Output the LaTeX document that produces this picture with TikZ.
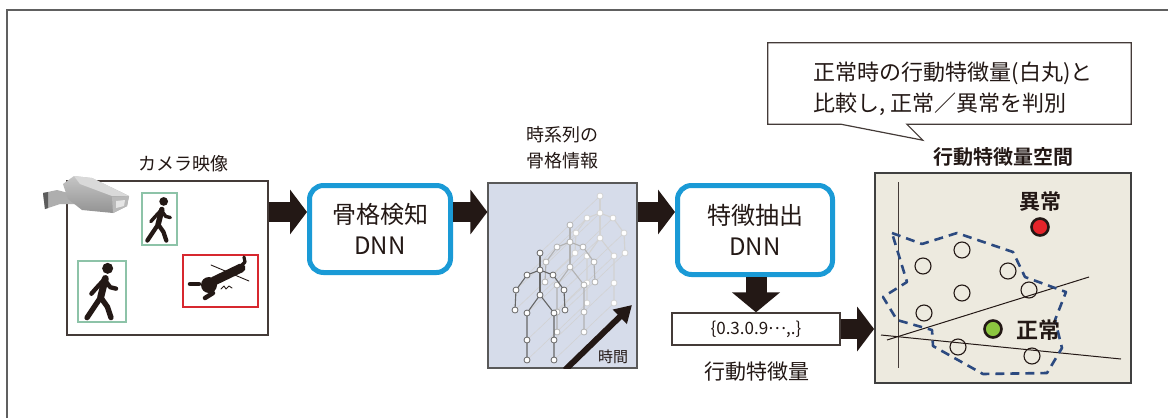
\documentclass[tikz,border=0pt]{standalone}
\usepackage{fontspec}
\setmainfont{Noto Sans CJK JP}[BoldFont={Noto Sans CJK JP Bold}]
\usetikzlibrary{arrows.meta,calc}
\definecolor{ink}{HTML}{231815}
\definecolor{dnnblue}{HTML}{1A9AD6}
\definecolor{panelblue}{HTML}{D6DCEA}
\definecolor{spacebg}{HTML}{EDEADF}
\definecolor{polyblue}{HTML}{2C4A80}
\definecolor{okgreen}{HTML}{8CC63F}
\definecolor{ngred}{HTML}{E5242A}
\definecolor{framegreen}{HTML}{8DC3A8}
\definecolor{framered}{HTML}{D7282F}
\definecolor{camgray}{HTML}{9A9A9A}

\tikzset{
  blockarrow/.style={draw=ink, line width=20pt, -{Triangle[length=17pt,width=44pt]}},
  dnnbox/.style={draw=dnnblue, line width=5pt, rounded corners=14pt, fill=white,
    align=center, text=ink, inner sep=0pt, font=\fontsize{24}{31}\selectfont},
  label/.style={text=ink, align=center, inner sep=0pt},
  wcirc/.style={circle, draw=ink, line width=1.1pt, fill=none, minimum size=16pt, inner sep=0pt},
  dot/.style={circle, draw=ink, line width=2.6pt, minimum size=17pt, inner sep=0pt},
  % walking pictogram, #1 = size factor
  walker/.pic={
    \begin{scope}[scale=#1, ink, line cap=round, line join=round]
      \fill (3.2,-17) circle (3.8);
      \draw[line width=#1*4.8pt] (1.6,-10) -- (-1.6,3);
      \draw[line width=#1*3pt] (0.6,-9) -- (-4.5,-3.5) -- (-8,0.5);
      \draw[line width=#1*3pt] (1.2,-9) -- (5,-4) -- (9,-3);
      \draw[line width=#1*3.7pt] (-1.6,3) -- (-6,9.5) -- (-11,17);
      \draw[line width=#1*3.7pt] (-1.6,3) -- (3,9.5) -- (5.5,17);
    \end{scope}
  },
  % joint skeleton, #1 = colour
  skel/.pic={
    \begin{scope}[draw=#1, line width=1.1pt, line join=round]
      \draw (0,-17) -- (0,0);
      \draw (0,0) -- (-13,5) -- (-24,20) -- (-25,40);
      \draw (0,0) -- (13,5) -- (24,20) -- (25,40);
      \draw (0,0) -- (0,25);
      \draw (0,25) -- (-13,43) -- (-13,70) -- (-13,90);
      \draw (0,25) -- (14,43) -- (14,70) -- (14,90);
      \foreach \jx/\jy in {0/-17,0/0,-13/5,-24/20,-25/40,13/5,24/20,25/40,0/25,-13/43,-13/70,-13/90,14/43,14/70,14/90}
        \filldraw[fill=white, line width=0.8pt] (\jx,\jy) circle (3);
    \end{scope}
  }
}

\begin{document}
\begin{tikzpicture}[x=1pt, y=-1pt]
\useasboundingbox (0,0) rectangle (1168,418);
\fill[white] (0,0) rectangle (1168,418);

% outer frame (top and left edges)
\draw[gray!75!black, line width=1.5pt] (7,418) -- (7,10) -- (1168,10);

% height of the horizontal flow arrows
\coordinate (flowy) at (0,212);

% ---------- camera view ----------
\node[label, font=\fontsize{18}{20}\selectfont] (camlabel) at (183,164) {カメラ映像};
\node[draw=ink!85, line width=1.4pt, minimum width=201pt, minimum height=154pt, inner sep=0pt] (cam) at (167.5,258) {};

\node[draw=framegreen, line width=1.4pt, minimum width=35pt, minimum height=52pt, inner sep=0pt] (walk1) at (159.5,219) {};
\node[draw=framegreen, line width=1.4pt, minimum width=48pt, minimum height=61pt, inner sep=0pt] (walk2) at (102,291.5) {};
\node[draw=framered, line width=1.4pt, minimum width=75pt, minimum height=52pt, inner sep=0pt] (fall) at (220.5,281) {};
\pic at (160,221) {walker=1.15};
\pic at (103,293) {walker=1.45};

% fallen person
\begin{scope}[ink, line cap=round, line join=round]
  \draw[line width=0.9pt] (211,265) -- (249,281);
  \draw[line width=9pt] (214,281) -- (241,268);
  \draw[line width=3.2pt] (240,267) -- (245,262) -- (244,257);
  \fill (209,285) circle (8);
  \draw[line width=4.5pt] (190,284) -- (199,284);
  \draw[line width=4.5pt] (205,298) -- (213,293);
  \draw[line width=0.9pt] (221,289) -- (224,286) -- (226,289) -- (229,286) -- (232,288);
\end{scope}

% surveillance camera
\begin{scope}[line join=round]
  \fill[camgray!80] (43,193) -- (57,190) -- (80,196) -- (80,204) -- (60,204) -- (45,209) -- cycle;
  \fill[camgray!60!black] (43,193) -- (48,192) -- (48,208) -- (45,209) -- cycle;
  \shade[top color=gray!45, bottom color=gray!85] (63,184) -- (74,176) -- (92,178) -- (129,196) -- (127,206) -- (113,213) -- (82,210) -- (68,199) -- cycle;
  \fill[gray!30] (74,176) -- (92,178) -- (129,196) -- (112,196) -- (80,184) -- cycle;
  \fill[gray!55] (112,197) -- (129,196) -- (127,206) -- (113,213) -- cycle;
  \fill[gray!20] (116,201) -- (125,200) -- (124,206) -- (116,208) -- cycle;
\end{scope}

% ---------- skeleton detection DNN ----------
\node[dnnbox, minimum width=141pt, minimum height=87pt] (det) at (380,229) {骨格検知\\DNN};

% ---------- time-series skeleton panel ----------
\node[label, font=\fontsize{18}{26}\selectfont] (skellabel) at (562,148) {時系列の\\骨格情報};
\node[draw=gray!70!black, line width=1.3pt, fill=panelblue, minimum width=149pt, minimum height=185pt, inner sep=0pt] (skel) at (562.5,275.5) {};
\begin{scope}
  \clip (skel.south west) rectangle (skel.north east);
  % joints linked over time
  \foreach \jx/\jy in {0/-17,0/0,-13/5,-24/20,-25/40,13/5,24/20,25/40,0/25,-13/43,-13/70,-13/90,14/43,14/70,14/90}
    \draw[gray!35, line width=0.6pt] (540+\jx,270+\jy) -- (600+\jx,213+\jy);
  \pic at (600,213) {skel=gray!35};
  \pic at (570,242) {skel=gray!60};
  \pic at (540,270) {skel=gray!80!black};
  \draw[ink, line width=6pt, -{Triangle[length=17pt,width=19pt]}] (565,370) -- (632,305);
\end{scope}
\node[label, font=\fontsize{15}{17}\selectfont] (timelabel) at (613,357) {時間};

% ---------- feature extraction DNN ----------
\node[dnnbox, minimum width=155pt, minimum height=89pt] (feat) at (755,230) {特徴抽出\\DNN};
\node[draw=ink!85, line width=1.3pt, fill=white, minimum width=168pt, minimum height=32pt, inner sep=0pt,
      text=ink, font=\fontsize{17}{20}\selectfont] (vec) at (756,329) {\{0.3.0.9\raisebox{0.28em}{…},.\}};
\node[label, font=\fontsize{21}{24}\selectfont] (veclabel) at (757,372) {行動特徴量};

% ---------- behaviour feature space ----------
\node[label, font=\bfseries\fontsize{20}{22}\selectfont] (spacelabel) at (1003,157) {行動特徴量空間};
\node[draw=gray!50!black, line width=1.8pt, fill=spacebg, minimum width=256pt, minimum height=210pt, inner sep=0pt] (space) at (1003,278) {};
\draw[ink!85, line width=1pt] (898,182) -- (898,368);
\draw[ink, line width=1pt] (887,340) -- (1089,277);
\draw[ink, line width=1pt] (881,335) -- (1121,359);
\draw[polyblue, line width=2.6pt, dash pattern=on 9pt off 6pt, line join=round]
  (892,233) -- (922,244) -- (957,233) -- (1013,252) -- (1025,277) -- (1066,292) -- (1055,320)
  -- (1062,348) -- (1047,373) -- (983,374) -- (933,346) -- (932,330) -- (897,320) -- (883,297)
  -- (907,282) -- cycle;
\foreach \cx/\cy [count=\i] in {962/250, 923/266, 1008/271, 962/293, 1029/290, 924/313, 958/347, 1032/356}
  \node[wcirc] (w\i) at (\cx,\cy) {};
\node[dot, fill=ngred] (ng) at (1040,227) {};
\node[label, font=\bfseries\fontsize{21}{24}\selectfont] (nglabel) at (1040,202) {異常};
\node[dot, fill=okgreen] (ok) at (993,329) {};
\node[label, font=\bfseries\fontsize{22}{24}\selectfont] (oklabel) at (1038,330) {正常};

% ---------- callout ----------
\node[minimum width=363pt, minimum height=81pt, inner sep=0pt] (note) at (949.5,83.5) {};
\draw[ink!85, line width=1.2pt, line join=miter, fill=white]
  (note.north west) -- (note.north east) -- (note.south east)
  -- ($(note.south west)+(139,0)$) -- ($(note.south west)+(155,16)$)
  -- ($(note.south west)+(73,0)$) -- (note.south west) -- cycle;
\node[label, align=left, font=\fontsize{22}{31}\selectfont] (notetext) at (953,89)
  {正常時の行動特徴量(白丸)と\\比較し, 正常／異常を判別};

% ---------- flow arrows ----------
\draw[blockarrow] (cam.east |- flowy) -- (det.west |- flowy);
\draw[blockarrow] (det.east |- flowy) -- (skel.west |- flowy);
\draw[blockarrow] (skel.east |- flowy) -- (feat.west |- flowy);
\draw[draw=ink, line width=21pt, -{Triangle[length=20pt,width=47pt]}] (feat.south -| vec.north) -- (vec.north);
\draw[blockarrow] (vec.east) -- (space.west |- vec.east);
\end{tikzpicture}
\end{document}
